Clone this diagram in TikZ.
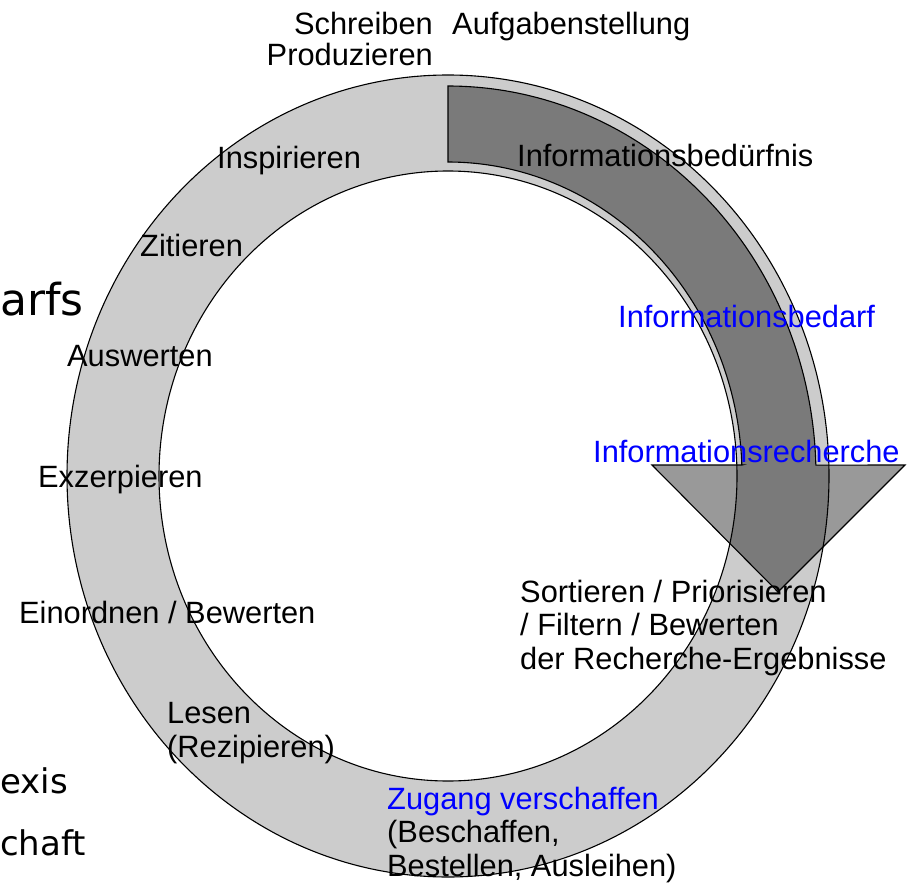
\documentclass[tikz,border=0pt]{standalone}
\usepackage{fontspec}
\setmainfont{Liberation Sans}
\newfontfamily\slidefont{DejaVu Sans}
\definecolor{ringgray}{HTML}{CCCCCC}
\begin{document}
\begin{tikzpicture}[x=1pt,y=-1pt,
  lbl/.style={anchor=base west, inner sep=0pt, font=\fontsize{30.8}{34}\selectfont, text=black},
  lblr/.style={lbl, anchor=base east},
  blu/.style={lbl, text=blue},
  frag/.style={anchor=base west, inner sep=0pt, text=black},
  outline/.style={draw=black, line width=1.1pt}]
\useasboundingbox (0,0) rectangle (909,885);
\fill[white] (0,0) rectangle (909,885);
% ring
\path[fill=ringgray, even odd rule]
  (448,476) ellipse [x radius=381pt, y radius=401pt]
  (448,476) ellipse [x radius=289pt, y radius=305pt];
\draw[outline] (448,476) ellipse [x radius=381pt, y radius=401pt];
\draw[outline] (448,476) ellipse [x radius=289pt, y radius=305pt];
% arrow
\draw[outline, fill=black, fill opacity=0.4, line join=miter]
  plot[domain=90:1.6, samples=80, smooth] ({448+368*cos(\x)},{476-390*sin(\x)})
  -- (905,465) -- (778,592) -- (652,465) -- (742,465)
  -- plot[domain=2:90, samples=80, smooth] ({448+294*cos(\x)},{476-314*sin(\x)})
  -- cycle;
% partial slide texts
\node[frag, font=\slidefont\fontsize{44}{48}\selectfont] (arfs) at (0,315) {arfs};
\node[frag, font=\slidefont\fontsize{34}{40}\selectfont] (exis) at (0,793) {exis};
\node[frag, font=\slidefont\fontsize{34}{40}\selectfont] (chaft) at (0,855) {chaft};
% labels
\node[lblr] (schreiben) at (433,35) {Schreiben};
\node[lblr] (produzieren) at (433,66) {Produzieren};
\node[lbl] (aufgabe) at (452,35) {Aufgabenstellung};
\node[lbl] (beduerfnis) at (517,167) {Informationsbedürfnis};
\node[lbl] (inspirieren) at (217,169) {Inspirieren};
\node[lbl] (zitieren) at (140,256) {Zitieren};
\node[lbl] (auswerten) at (67,366) {Auswerten};
\node[lbl] (exzerpieren) at (38,487) {Exzerpieren};
\node[lbl] (einordnen) at (19,623) {Einordnen / Bewerten};
\node[lbl] (lesen) at (167,723) {Lesen};
\node[lbl] (rezipieren) at (167,757) {(Rezipieren)};
\node[blu] (zugang) at (387,809) {Zugang verschaffen};
\node[lbl] (beschaffen) at (387,842) {(Beschaffen,};
\node[lbl] (bestellen) at (387,876) {Bestellen, Ausleihen)};
\node[lbl] (sortieren) at (520,602) {Sortieren / Priorisieren};
\node[lbl] (filtern) at (520,635) {/ Filtern / Bewerten};
\node[lbl] (ergebnisse) at (520,669) {der Recherche-Ergebnisse};
\node[blu] (bedarf) at (618,327) {Informationsbedarf};
\node[blu] (recherche) at (593,462) {Informationsrecherche};
\end{tikzpicture}
\end{document}
